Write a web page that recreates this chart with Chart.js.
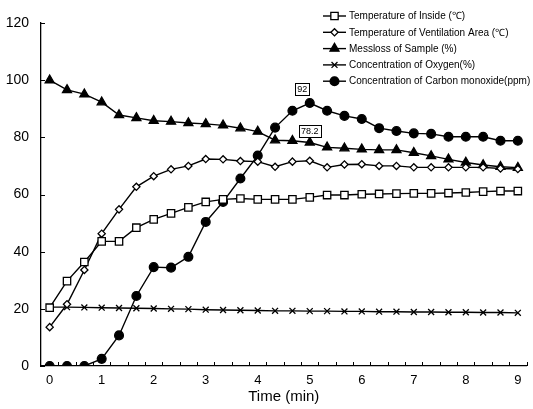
<!DOCTYPE html>
<html>
<head>
<meta charset="utf-8">
<script src="https://cdn.jsdelivr.net/npm/chart.js@4.4.1/dist/chart.umd.min.js"></script>
<style>
  html, body { margin: 0; padding: 0; background: #fff; }
  #wrap { width: 533px; height: 409px; }
</style>
</head>
<body>
<div id="wrap"><canvas id="chart" width="533" height="409"></canvas></div>
<script>
// sampling times (s), one reading every 20 s
const timeSec = [0, 20, 40, 60, 80, 100, 120, 140, 160, 180, 200, 220, 240, 260,
                 280, 300, 320, 340, 360, 380, 400, 420, 440, 460, 480, 500, 520, 540];

const tempInside = [20.4, 29.7, 36.4, 43.6, 43.6, 48.4, 51.3, 53.4, 55.5, 57.4, 58.3, 58.6, 58.3, 58.3,
                    58.3, 59.0, 59.8, 59.8, 60.1, 60.2, 60.3, 60.4, 60.4, 60.5, 60.7, 61.0, 61.2, 61.2];
const tempVent = [13.6, 21.6, 33.6, 46.3, 54.8, 62.7, 66.4, 68.8, 70.0, 72.4, 72.3, 71.7, 71.5, 69.7,
                  71.5, 71.8, 69.5, 70.5, 70.6, 70.0, 70.0, 69.5, 69.5, 69.5, 69.5, 69.5, 69.1, 68.9];
const massLoss = [100, 96.6, 95.1, 92.3, 87.8, 86.8, 85.8, 85.5, 85.0, 84.7, 84.2, 83.2, 82.0, 79.0,
                  78.8, 78.2, 76.5, 76.2, 75.8, 75.6, 75.6, 74.6, 73.5, 72.3, 71.2, 70.3, 69.7, 69.4];
const oxygen = [20.6, 20.6, 20.5, 20.4, 20.3, 20.2, 20.1, 20.0, 19.9, 19.7, 19.6, 19.5, 19.4, 19.3,
                19.3, 19.2, 19.2, 19.1, 19.1, 19.0, 19.0, 18.9, 18.9, 18.8, 18.8, 18.7, 18.7, 18.6];
const carbonMonoxide = [0, 0, 0, 2.5, 10.7, 24.5, 34.6, 34.4, 38.2, 50.4, 57.4, 65.6, 73.6, 83.4,
                        89.3, 92, 89.3, 87.5, 86.4, 83.2, 82.2, 81.4, 81.2, 80.2, 80.2, 80.2, 78.8, 78.8];

const seriesNames = [
  'Temperature of Inside (℃)',
  'Temperature of Ventilation Area (℃)',
  'Messloss of Sample (%)',
  'Concentration of Oxygen(%)',
  'Concentration of Carbon monoxide(ppm)'
];
const yTicks = [0, 20, 40, 60, 80, 100, 120];

const FONT = '"Liberation Sans", Arial, sans-serif';

function series(label, data, style, radius, fill) {
  return {
    label: label,
    data: data,
    borderColor: '#000',
    borderWidth: 1.4,
    tension: 0,
    pointStyle: style,
    pointRadius: radius,
    pointHoverRadius: radius,
    pointBackgroundColor: fill,
    pointBorderColor: '#000',
    pointBorderWidth: 1.3
  };
}

const datasets = [
  series(seriesNames[0], tempInside, 'rect', 5.2, '#fff'),
  series(seriesNames[1], tempVent, 'rectRot', 3.6, '#fff'),
  series(seriesNames[2], massLoss, 'triangle', 5.2, '#000'),
  series(seriesNames[3], oxygen, 'crossRot', 4.2, '#000'),
  series(seriesNames[4], carbonMonoxide, 'circle', 4.4, '#000')
];

// small inward tick marks on both axes
const innerTicks = {
  id: 'innerTicks',
  afterDraw(chart) {
    const { ctx, chartArea: a, scales: { y } } = chart;
    const step = (a.right - a.left) / timeSec.length;
    ctx.save();
    ctx.strokeStyle = '#000';
    ctx.lineWidth = 1;
    ctx.beginPath();
    for (let i = 1; i <= timeSec.length; i++) {
      const px = Math.round(a.left + i * step) + 0.5;
      ctx.moveTo(px, a.bottom);
      ctx.lineTo(px, a.bottom - 4);
    }
    yTicks.forEach(v => {
      const py = Math.round(y.getPixelForValue(v)) + 0.5;
      ctx.moveTo(a.left, py);
      ctx.lineTo(a.left + 4, py);
    });
    ctx.stroke();
    ctx.restore();
  }
};

// boxed value labels at the CO peak and the mass loss reading beside it
const valueBoxes = {
  id: 'valueBoxes',
  afterDatasetsDraw(chart) {
    const ctx = chart.ctx;
    const boxes = [
      { ds: 4, idx: 15, values: carbonMonoxide, dx: -7.5, dy: -14 },
      { ds: 2, idx: 15, values: massLoss, dx: 0, dy: -11 }
    ];
    ctx.save();
    ctx.font = '9px ' + FONT;
    ctx.textAlign = 'center';
    ctx.textBaseline = 'middle';
    boxes.forEach(b => {
      const pt = chart.getDatasetMeta(b.ds).data[b.idx];
      const txt = String(b.values[b.idx]);
      const w = ctx.measureText(txt).width + 4;
      const h = 12;
      const cx = pt.x + b.dx, cy = pt.y + b.dy;
      ctx.fillStyle = '#fff';
      ctx.fillRect(cx - w / 2, cy - h / 2, w, h);
      ctx.strokeStyle = '#000';
      ctx.lineWidth = 1;
      ctx.strokeRect(Math.round(cx - w / 2) + 0.5, Math.round(cy - h / 2) + 0.5, Math.round(w), h);
      ctx.fillStyle = '#000';
      ctx.fillText(txt, cx, cy + 0.5);
    });
    ctx.restore();
  }
};

// legend with line + marker samples, top right
const lineLegend = {
  id: 'lineLegend',
  afterDraw(chart) {
    const ctx = chart.ctx;
    const x0 = 323, x1 = 346, top = 16, gap = 16.3;
    ctx.save();
    ctx.font = '10px ' + FONT;
    ctx.textBaseline = 'middle';
    chart.data.datasets.forEach((ds, i) => {
      const y = top + i * gap;
      ctx.strokeStyle = '#000';
      ctx.lineWidth = 1.4;
      ctx.beginPath();
      ctx.moveTo(x0, y);
      ctx.lineTo(x1, y);
      ctx.stroke();
      ctx.fillStyle = ds.pointBackgroundColor;
      ctx.lineWidth = ds.pointBorderWidth;
      Chart.helpers.drawPoint(ctx, {
        pointStyle: ds.pointStyle,
        radius: ds.pointRadius,
        borderWidth: ds.pointBorderWidth,
        rotation: 0
      }, (x0 + x1) / 2, y);
      ctx.fillStyle = '#000';
      ctx.fillText(ds.label, x1 + 3, y + 0.5);
    });
    ctx.restore();
  }
};

new Chart(document.getElementById('chart').getContext('2d'), {
  type: 'line',
  data: { labels: timeSec, datasets: datasets },
  options: {
    responsive: false,
    animation: false,
    layout: { padding: { top: 23, right: 0, left: 0, bottom: 0 } },
    plugins: {
      legend: { display: false },
      tooltip: { enabled: false }
    },
    scales: {
      x: {
        type: 'category',
        offset: true,
        grid: { display: false, drawTicks: false },
        border: { display: true, color: '#000', width: 1.3 },
        ticks: {
          autoSkip: false,
          maxRotation: 0,
          padding: 7,
          color: '#000',
          font: { family: FONT, size: 13 },
          callback: function (v, i) {
            return timeSec[i] % 60 === 0 ? String(timeSec[i] / 60) : '';
          }
        },
        title: {
          display: true,
          text: 'Time (min)',
          color: '#000',
          font: { family: FONT, size: 15 },
          padding: { top: 0, bottom: 3 }
        },
        afterFit: function (s) { s.height = 43; }
      },
      y: {
        min: 0,
        max: 120,
        grid: { display: false, drawTicks: false },
        border: { display: true, color: '#000', width: 1.3 },
        ticks: {
          stepSize: 20,
          padding: 12,
          color: '#000',
          font: { family: FONT, size: 14 }
        },
        afterFit: function (s) { s.width = 41; }
      }
    }
  },
  plugins: [innerTicks, valueBoxes, lineLegend]
});
</script>
</body>
</html>
